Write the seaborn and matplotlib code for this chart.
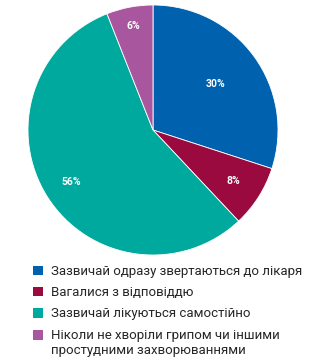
import matplotlib
matplotlib.use("Agg")
import matplotlib.pyplot as plt
import seaborn as sns
import numpy as np
from matplotlib.patches import Patch

sns.set_theme(style="white")
plt.rcParams['font.family'] = ['Roboto', 'DejaVu Sans']

categories = ["Зазвичай одразу звертаються до лікаря",
              "Вагалися з відповіддю",
              "Зазвичай лікуються самостійно",
              "Ніколи не хворіли грипом чи іншими\nпростудними захворюваннями"]
values = [30, 8, 56, 6]
labels = ["30%", "8%", "56%", "6%"]
colors = ["#0062AE", "#9B0A3F", "#00A99D", "#A8569E"]
label_r = [0.62, 0.76, 0.77, 0.85]

fig = plt.figure(figsize=(3.36, 3.61), dpi=100)
ax = fig.add_axes([28/336, 1 - 255/361, 250/336, 250/361])
wedges, _ = ax.pie(values, colors=colors, startangle=90, counterclock=False,
                   radius=1.0, wedgeprops=dict(linewidth=0.6, edgecolor="white"))
for w, lab, r in zip(wedges, labels, label_r):
    ang = np.deg2rad((w.theta1 + w.theta2) / 2)
    ax.text(r * np.cos(ang), r * np.sin(ang), lab, ha="center", va="center",
            color="white", fontsize=7.5, fontweight="bold")
ax.set_xlim(-1, 1)
ax.set_ylim(-1, 1)
ax.set_aspect("equal")
ax.axis("off")

handles = [Patch(facecolor=c, edgecolor="none") for c in colors]
leg = fig.legend(handles, categories, loc="upper left", bbox_to_anchor=(33/336, 1 - 265/361),
                 frameon=False, fontsize=9.5, handlelength=0.75, handleheight=0.75,
                 handletextpad=0.65, labelspacing=0.62, borderaxespad=0, borderpad=0)
for t in leg.get_texts():
    t.set_linespacing(1.25)
last = leg.legend_handles[3]
last.set_y(last.get_y() + 6)
fig.savefig("out.png", dpi=100)
